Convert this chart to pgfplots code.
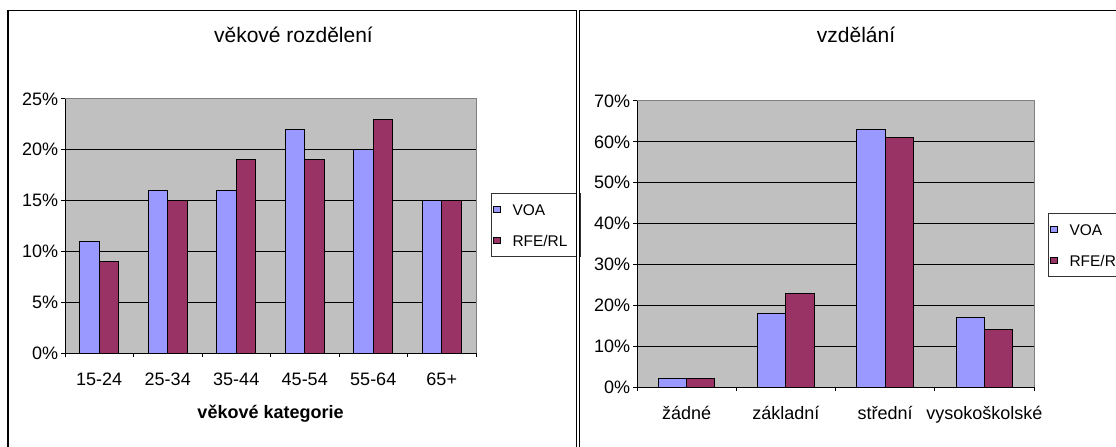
\documentclass[border=0pt]{standalone}
\usepackage{fontspec}
\setmainfont{Liberation Sans}
\usepackage{pgfplots}
\pgfplotsset{compat=1.18}

\definecolor{voa}{HTML}{9999FF}
\definecolor{rfe}{HTML}{993366}
\definecolor{plotarea}{HTML}{C0C0C0}
\definecolor{plotframe}{HTML}{808080}

\newcommand\tickfont{\fontsize{13.5}{16}\selectfont}
\newcommand\legfont{\fontsize{11.6}{13}\selectfont}
\newcommand\titlefont{\fontsize{15.75}{18}\selectfont}

\pgfplotsset{
  excel/.style={
    scale only axis,
    ybar=0pt,
    ymin=0,
    axis x line=bottom,
    axis y line=left,
    axis line style={-, black, line width=0.75pt},
    axis background/.style={fill=plotarea},
    ymajorgrids,
    major grid style={black, line width=0.75pt},
    tick align=outside,
    major tick length=3pt,
    minor tick length=3pt,
    tick style={black, line width=0.75pt},
    major x tick style=transparent,
    ticklabel style={font=\tickfont},
    yticklabel style={inner xsep=2pt},
    xticklabel style={anchor=base, yshift=-21pt},
    legend cell align=left,
    legend image code/.code={\draw[##1] (0pt,-2.6pt) rectangle (5.25pt,2.6pt);},
    legend style={draw=black!80, line width=0.75pt,
      inner xsep=0.75pt, inner ysep=7.85pt,
      row sep=14.95pt, column sep=9pt, anchor=north west,
      nodes={inner sep=0pt, text height=8.3pt, text depth=0pt,
        text width=50pt, font=\legfont}},
    clip=false,
  },
  vbar/.style={fill=voa, draw=black, line width=0.75pt},
  rbar/.style={fill=rfe, draw=black, line width=0.75pt},
}

\begin{document}
\begin{tikzpicture}
\path[use as bounding box] (0,0) rectangle (837pt,334.5pt);
\clip (0,0) rectangle (837pt,334.5pt);

% vekove rozdeleni
\begin{axis}[excel,
    at={(48.75pt,69.75pt)}, anchor=south west,
    width=308.25pt, height=190.5pt,
    bar width=14.68pt,
    xmin=0.5, xmax=6.5, ymax=25,
    xtick={1,...,6},
    xticklabels={15-24,25-34,35-44,45-54,55-64,65+},
    minor xtick={0.5,1.5,...,6.5},
    ytick={0,5,...,25},
    yticklabels={0\%,5\%,10\%,15\%,20\%,25\%},
    legend style={at={(1.0365,0.63)}},
  ]
  \addplot[vbar] coordinates {(1,11) (2,16) (3,16) (4,22) (5,20) (6,15)};
  \addplot[rbar] coordinates {(1,9) (2,15) (3,19) (4,19) (5,23) (6,15)};
  \legend{VOA,RFE/RL}
  \draw[plotframe, line width=0.75pt] (rel axis cs:0,1) -- (rel axis cs:1,1) -- (rel axis cs:1,0);
\end{axis}

% vzdelani
\begin{axis}[excel,
    at={(477.75pt,44.25pt)}, anchor=south west,
    width=297.75pt, height=214.5pt,
    bar width=21.27pt,
    xmin=0.5, xmax=4.5, ymax=70,
    xtick={1,...,4},
    xticklabels={žádné,základní,střední,vysokoškolské},
    minor xtick={0.5,1.5,...,4.5},
    ytick={0,10,...,70},
    yticklabels={0\%,10\%,20\%,30\%,40\%,50\%,60\%,70\%},
    legend style={at={(1.0353,0.6084)}},
  ]
  \addplot[vbar] coordinates {(1,2) (2,18) (3,63) (4,17)};
  \addplot[rbar] coordinates {(1,2) (2,23) (3,61) (4,14)};
  \legend{VOA,RFE/RL}
  \draw[plotframe, line width=0.75pt] (rel axis cs:0,1) -- (rel axis cs:1,1) -- (rel axis cs:1,0);
\end{axis}

\node[font=\titlefont, anchor=base] at (220.1pt,302.25pt) {věkové rozdělení};
\node[font=\titlefont, anchor=base] at (642pt,302.25pt) {vzdělání};
\node[font=\tickfont\bfseries, anchor=base] at (202.9pt,21pt) {věkové kategorie};

% chart area borders
\fill[white] (432.6pt,-5pt) rectangle (434.4pt,340pt);
\draw[line width=1.1pt] (6pt,-5pt) |- (432.4pt,326.6pt) -- (432.4pt,-5pt);
\draw[line width=1.1pt] (434.6pt,-5pt) |- (845pt,326.6pt);
\end{tikzpicture}
\end{document}
